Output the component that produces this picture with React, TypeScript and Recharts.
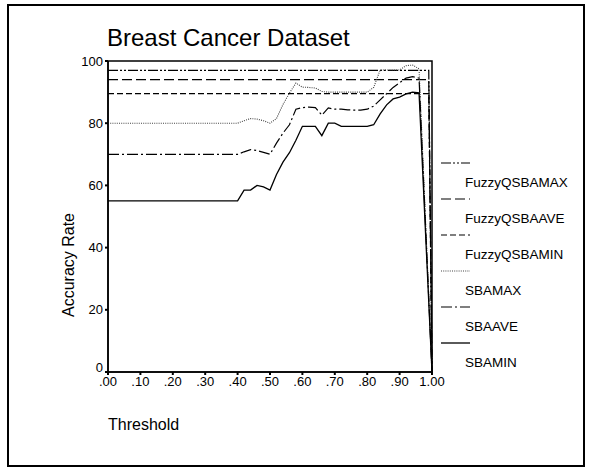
import React from "react";
import { LineChart, Line, XAxis, YAxis, ReferenceArea } from "recharts";

const thresholds = [0, 0.4, 0.42, 0.44, 0.46, 0.48, 0.5, 0.52, 0.54, 0.56, 0.58, 0.6, 0.62, 0.64, 0.66, 0.68, 0.7, 0.72, 0.74, 0.76, 0.78, 0.8, 0.82, 0.84, 0.86, 0.88, 0.9, 0.92, 0.94, 0.96, 0.99, 1.0];

const fuzzyMax = [97, 97, 97, 97, 97, 97, 97, 97, 97, 97, 97, 97, 97, 97, 97, 97, 97, 97, 97, 97, 97, 97, 97, 97, 97, 97, 97, 97, 97, 97, 97, 0];
const fuzzyAve = [94, 94, 94, 94, 94, 94, 94, 94, 94, 94, 94, 94, 94, 94, 94, 94, 94, 94, 94, 94, 94, 94, 94, 94, 94, 94, 94, 94, 94, 94, 94, 0];
const fuzzyMin = [89.5, 89.5, 89.5, 89.5, 89.5, 89.5, 89.5, 89.5, 89.5, 89.5, 89.5, 89.5, 89.5, 89.5, 89.5, 89.5, 89.5, 89.5, 89.5, 89.5, 89.5, 89.5, 89.5, 89.5, 89.5, 89.5, 89.5, 89.5, 89.5, 89.5, 89.5, 0];
const sbaMax = [80, 80, 80.8, 81.5, 81.3, 80.8, 80, 81.5, 86, 89.7, 92.9, 91.6, 91.5, 91.3, 90.2, 90, 90, 90, 90, 90, 90, 90, 91.5, 97.1, 97.1, 97.1, 97.1, 98.5, 98.7, 97.5, null, 0];
const sbaAve = [70, 70, 70.8, 71.5, 71.2, 70.6, 70, 73.6, 76.8, 79.5, 84.5, 85, 85.2, 85, 82.6, 84.9, 84.5, 84.5, 84.3, 84.2, 84.2, 84.5, 85.5, 87.5, 89.5, 91.5, 93, 94.5, 95, 94.5, null, 0];
const sbaMin = [55, 55, 58.5, 58.5, 60, 59.5, 58.5, 63.5, 67.5, 70.5, 74.5, 79, 79, 79, 76, 80, 80, 79, 79, 79, 79, 79, 79.5, 83, 85.9, 87.8, 88.4, 89.4, 90, 89.8, null, 0];

const xTicks = [0, 0.1, 0.2, 0.3, 0.4, 0.5, 0.6, 0.7, 0.8, 0.9, 1.0];
const xTickLabels = [".00", ".10", ".20", ".30", ".40", ".50", ".60", ".70", ".80", ".90", "1.00"];
const yTicks = [0, 20, 40, 60, 80, 100];

const data = thresholds.map((t, i) => ({
  t,
  fmax: fuzzyMax[i],
  fave: fuzzyAve[i],
  fmin: fuzzyMin[i],
  smax: sbaMax[i],
  save: sbaAve[i],
  smin: sbaMin[i],
}));

const series = [
  { key: "fmax", name: "FuzzyQSBAMAX", dash: "10 2 2 2 2 2", color: "#000", width: 1.2 },
  { key: "fave", name: "FuzzyQSBAAVE", dash: "10 4", color: "#000", width: 1.2 },
  { key: "fmin", name: "FuzzyQSBAMIN", dash: "6 3", color: "#000", width: 1.2 },
  { key: "smax", name: "SBAMAX", dash: "1 1.2", color: "#444", width: 1.1 },
  { key: "save", name: "SBAAVE", dash: "11 3 2 3", color: "#000", width: 1.2 },
  { key: "smin", name: "SBAMIN", dash: undefined, color: "#000", width: 1.3 },
];

const FONT = "Arial, 'Liberation Sans', sans-serif";

const YTick = (props: any) => {
  const { x, y, payload } = props;
  const shift = payload.value === 0 ? -5 : 0;
  return (
    <text x={x} y={y + shift} dy="0.355em" textAnchor="end" fontSize={13} fontFamily={FONT} fill="#000">
      {payload.value}
    </text>
  );
};

export default function App() {
  return (
    <div style={{ position: "relative", width: 589, height: 469, background: "#fff", fontFamily: FONT }}>
      <style>{"body{margin:0;background:#fff}"}</style>
      <div style={{ position: "absolute", left: 0, top: 0 }}>
        <LineChart width={589} height={469} data={data} margin={{ top: 61, right: 157, left: 68, bottom: 67 }}>
          <XAxis
            dataKey="t"
            type="number"
            domain={[0, 1]}
            ticks={xTicks}
            interval={0}
            tickFormatter={(v: number) => xTickLabels[xTicks.findIndex((x) => Math.abs(x - v) < 1e-9)]}
            tickSize={3}
            tickMargin={2}
            height={30}
            axisLine={{ stroke: "#000", strokeWidth: 1.5 }}
            tickLine={{ stroke: "#000", strokeWidth: 2 }}
            tick={{ fill: "#000", fontSize: 13, fontFamily: FONT }}
          />
          <YAxis
            type="number"
            domain={[0, 100]}
            ticks={yTicks}
            interval={0}
            width={40}
            tickSize={3}
            tickMargin={2}
            axisLine={{ stroke: "#000", strokeWidth: 1.5 }}
            tickLine={{ stroke: "#000", strokeWidth: 2 }}
            tick={<YTick />}
          />
          <ReferenceArea x1={0} x2={1} y1={0} y2={100} fill="none" stroke="#000" strokeWidth={1.5} ifOverflow="visible" />
          {series.map((s) => (
            <Line
              key={s.key}
              dataKey={s.key}
              name={s.name}
              type="linear"
              stroke={s.color}
              strokeWidth={s.width}
              strokeDasharray={s.dash}
              dot={false}
              activeDot={false}
              connectNulls
              isAnimationActive={false}
            />
          ))}
        </LineChart>
      </div>
      <svg width={589} height={469} style={{ position: "absolute", left: 0, top: 0, pointerEvents: "none" }}>
        <rect x={8} y={5} width={576} height={461} fill="none" stroke="#000" strokeWidth={2} />
        <text x={107} y={46} fontSize={24} fontFamily={FONT} fill="#000">
          Breast Cancer Dataset
        </text>
        <text x={0} y={0} fontSize={16} fontFamily={FONT} fill="#000" textAnchor="middle" transform="translate(74,265) rotate(-90)">
          Accuracy Rate
        </text>
        <text x={108} y={430} fontSize={16} fontFamily={FONT} fill="#000">
          Threshold
        </text>
        <g transform="translate(430,150)">
          {series.map((s, i) => (
            <g key={s.key}>
              <line x1={11} x2={40} y1={13 + i * 36} y2={13 + i * 36} stroke={s.color} strokeWidth={s.width} strokeDasharray={s.dash} />
              <text x={35} y={36.5 + i * 36} fontSize={13.5} fontFamily={FONT} fill="#000">
                {s.name}
              </text>
            </g>
          ))}
        </g>
      </svg>
    </div>
  );
}
